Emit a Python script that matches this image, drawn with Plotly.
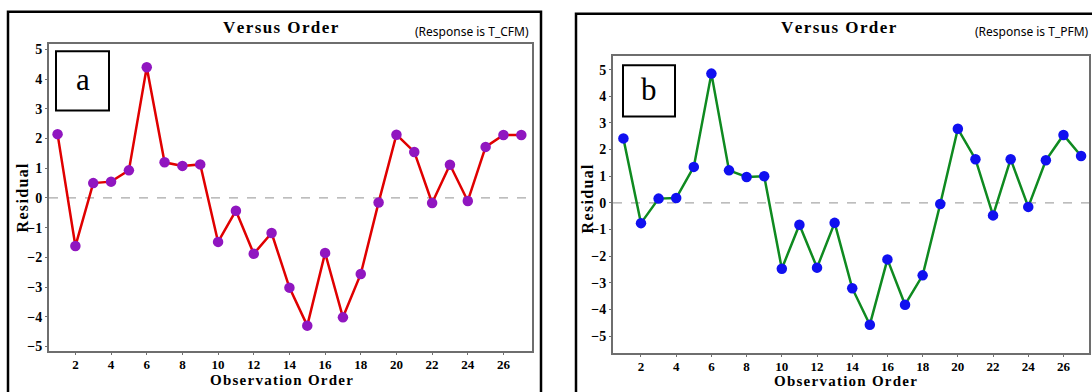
import plotly.graph_objects as go

order = list(range(1, 28))
resid_cfm = [2.15, -1.62, 0.50, 0.55, 0.93, 4.40, 1.20, 1.08, 1.13, -1.48,
             -0.43, -1.88, -1.18, -3.02, -4.30, -1.85, -4.02, -2.56, -0.15, 2.13,
             1.55, -0.17, 1.12, -0.10, 1.72, 2.12, 2.12]
resid_pfm = [2.42, -0.76, 0.16, 0.18, 1.35, 4.85, 1.22, 0.97, 1.00, -2.47,
             -0.82, -2.43, -0.75, -3.20, -4.57, -2.12, -3.82, -2.72, -0.04, 2.78,
             1.64, -0.47, 1.64, -0.15, 1.60, 2.55, 1.76]
x_ticks = list(range(2, 27, 2))
y_ticks = list(range(-5, 6))
panel_labels = ["a", "b"]
responses = ["(Response is T_CFM)", "(Response is T_PFM)"]

W, H = 1092, 392
def px(x): return x / W
def py(y): return 1 - y / H

SERIF = "Liberation Serif"
HS = "\u200a"  # hair space for slight letter spacing
def spaced(s):
    return HS.join(list(s))

fig = go.Figure()
fig.add_trace(go.Scatter(x=order, y=resid_cfm, mode="lines+markers", xaxis="x", yaxis="y",
                         line=dict(color="#e00000", width=2.5),
                         marker=dict(color="#9016c0", size=10.5), showlegend=False))
fig.add_trace(go.Scatter(x=order, y=resid_pfm, mode="lines+markers", xaxis="x2", yaxis="y2",
                         line=dict(color="#0f8a20", width=2.5),
                         marker=dict(color="#1010f0", size=10.5), showlegend=False))

axis_common = dict(showgrid=False, zeroline=False, showline=True, mirror=True,
                   linecolor="#6e6e6e", linewidth=2, ticks="outside", ticklen=2,
                   tickcolor="#6e6e6e", tickwidth=1)
font_y = dict(family=SERIF, size=14, color="black", weight="bold")
font_x = dict(family=SERIF, size=13, color="black", weight="bold")

fig.update_layout(
    width=W, height=H, margin=dict(l=0, r=0, t=0, b=0),
    paper_bgcolor="white", plot_bgcolor="white",
    xaxis=dict(domain=[px(49), px(532)], range=[0.52, 27.6], tickvals=x_ticks, anchor="y",
               tickfont=font_x, ticklabelstandoff=-2, **axis_common),
    yaxis=dict(domain=[py(354), py(43)], range=[-5.17, 5.17], tickvals=y_ticks, anchor="x",
               tickfont=font_y, **axis_common),
    xaxis2=dict(domain=[px(613), px(1089)], range=[0.41, 27.45], tickvals=x_ticks, anchor="y2",
                tickfont=font_x, ticklabelstandoff=-2, **axis_common),
    yaxis2=dict(domain=[py(356), py(55)], range=[-5.65, 5.5], tickvals=y_ticks, anchor="x2",
                tickfont=font_y, **axis_common),
)

shapes = []
# outer panel frames
shapes.append(dict(type="rect", xref="paper", yref="paper", x0=px(8), x1=px(541), y0=py(400), y1=py(10),
                   line=dict(color="black", width=2.5)))
shapes.append(dict(type="rect", xref="paper", yref="paper", x0=px(576), x1=px(1100), y0=py(400), y1=py(12),
                   line=dict(color="black", width=2.5)))
# zero reference lines
for xr, yr in [("x domain", "y"), ("x2 domain", "y2")]:
    shapes.append(dict(type="line", xref=xr, yref=yr, x0=0, x1=1, y0=0, y1=0,
                       line=dict(color="#a8a8a8", width=1.3, dash="dash"), layer="below"))
# label boxes
shapes.append(dict(type="rect", xref="paper", yref="paper", x0=px(56), x1=px(109), y0=py(110), y1=py(50),
                   line=dict(color="black", width=2), fillcolor="white"))
shapes.append(dict(type="rect", xref="paper", yref="paper", x0=px(623), x1=px(675), y0=py(116), y1=py(64),
                   line=dict(color="black", width=2), fillcolor="white"))
fig.update_layout(shapes=shapes)

ann = []
def A(text, x, y, size, family=SERIF, bold=False, xanchor="center", angle=0, color="black"):
    ann.append(dict(text=text, x=px(x), y=py(y), xref="paper", yref="paper", showarrow=False,
                    xanchor=xanchor, yanchor="middle", textangle=angle,
                    font=dict(family=family, size=size, color=color, weight="bold" if bold else "normal")))

A(spaced("Versus Order"), 281, 26, 17, bold=True)
A(spaced("Versus Order"), 839, 26, 17, bold=True)
A(responses[0], 531, 30, 12, family="Noto Sans", xanchor="right")
A(responses[1], 1091, 30, 12, family="Noto Sans", xanchor="right")
A(panel_labels[0], 83, 79, 31)
A(panel_labels[1], 649, 89, 31)
A(spaced("Observation Order"), 281, 383, 15, bold=True)
A(spaced("Observation Order"), 845, 384, 15, bold=True)
A(spaced("Residual"), 22, 199, 16, bold=True, angle=-90)
A(spaced("Residual"), 587, 200, 16, bold=True, angle=-90)
fig.update_layout(annotations=ann)

fig.write_html("out.html", config={"displayModeBar": False},
               post_script="document.body.style.margin='0';document.body.style.overflow='hidden';")
